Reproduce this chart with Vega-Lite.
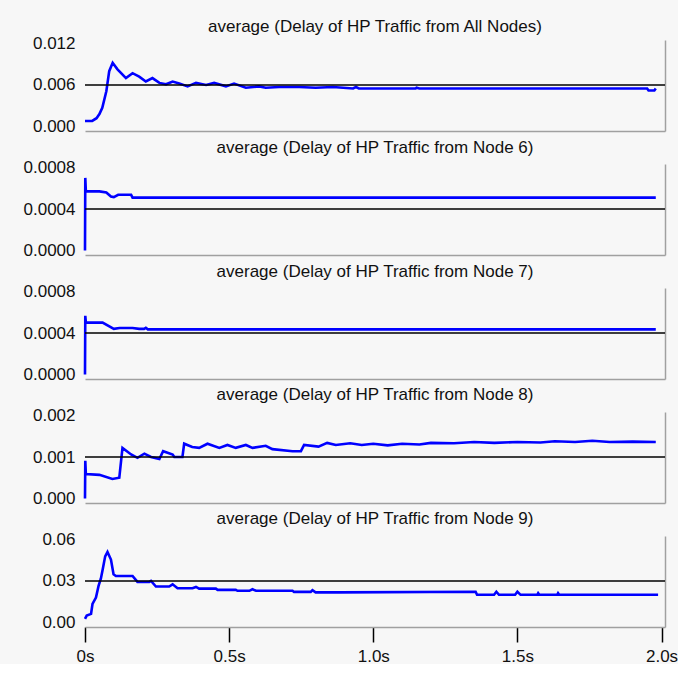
{
  "$schema": "https://vega.github.io/schema/vega-lite/v6.json",
  "background": "#f7f7f7",
  "padding": {"left": 23, "top": 18, "right": 0, "bottom": 0},
  "bounds": "flush",
  "spacing": 33,
  "config": {
    "view": {"stroke": null},
    "font": "Liberation Sans",
    "axis": {"labelFont": "Liberation Sans", "labelFontSize": 17, "labelColor": "#111111", "grid": false, "title": null},
    "title": {"font": "Liberation Sans", "fontSize": 17, "fontWeight": "normal", "color": "#111111", "anchor": "middle", "frame": "group"}
  },
  "datasets": {
    "p1": [
      {"t": 0, "v": 0.0008}, {"t": 0.025, "v": 0.0008}, {"t": 0.04, "v": 0.0012}, {"t": 0.05, "v": 0.0018},
      {"t": 0.06, "v": 0.0027}, {"t": 0.074, "v": 0.0051}, {"t": 0.084, "v": 0.008}, {"t": 0.096, "v": 0.0092},
      {"t": 0.112, "v": 0.0083}, {"t": 0.142, "v": 0.007}, {"t": 0.165, "v": 0.0077}, {"t": 0.188, "v": 0.0072},
      {"t": 0.211, "v": 0.0065}, {"t": 0.234, "v": 0.007}, {"t": 0.258, "v": 0.0063}, {"t": 0.281, "v": 0.0061},
      {"t": 0.304, "v": 0.0065}, {"t": 0.327, "v": 0.0062}, {"t": 0.356, "v": 0.0058}, {"t": 0.385, "v": 0.0063},
      {"t": 0.42, "v": 0.006}, {"t": 0.448, "v": 0.0063}, {"t": 0.489, "v": 0.0058}, {"t": 0.517, "v": 0.0062},
      {"t": 0.558, "v": 0.0056}, {"t": 0.604, "v": 0.0058}, {"t": 0.627, "v": 0.0056}, {"t": 0.673, "v": 0.0057},
      {"t": 0.743, "v": 0.0057}, {"t": 0.8, "v": 0.0056}, {"t": 0.86, "v": 0.0057}, {"t": 0.93, "v": 0.0055},
      {"t": 0.94, "v": 0.0057}, {"t": 0.95, "v": 0.0055}, {"t": 1.147, "v": 0.0055}, {"t": 1.15, "v": 0.0056},
      {"t": 1.16, "v": 0.0055}, {"t": 1.5, "v": 0.0055}, {"t": 1.95, "v": 0.0055}, {"t": 1.955, "v": 0.0052},
      {"t": 1.975, "v": 0.0052}, {"t": 1.98, "v": 0.0055}
    ],
    "p2": [
      {"t": 0, "v": 0}, {"t": 0.001, "v": 0.0007}, {"t": 0.003, "v": 0.00057}, {"t": 0.05, "v": 0.00057},
      {"t": 0.074, "v": 0.00056}, {"t": 0.09, "v": 0.00052}, {"t": 0.1, "v": 0.000515}, {"t": 0.115, "v": 0.000537},
      {"t": 0.16, "v": 0.000537}, {"t": 0.165, "v": 0.00051}, {"t": 1.98, "v": 0.00051}
    ],
    "p3": [
      {"t": 0, "v": 0}, {"t": 0.001, "v": 0.000566}, {"t": 0.003, "v": 0.0005}, {"t": 0.061, "v": 0.0005},
      {"t": 0.1, "v": 0.00044}, {"t": 0.12, "v": 0.000449}, {"t": 0.165, "v": 0.000449}, {"t": 0.188, "v": 0.00044},
      {"t": 0.205, "v": 0.00044}, {"t": 0.211, "v": 0.00045}, {"t": 0.218, "v": 0.000435}, {"t": 1.98, "v": 0.000435}
    ],
    "p4": [
      {"t": 0, "v": 0}, {"t": 0.001, "v": 0.00091}, {"t": 0.003, "v": 0.00059}, {"t": 0.05, "v": 0.00057},
      {"t": 0.095, "v": 0.00047}, {"t": 0.119, "v": 0.0005}, {"t": 0.13, "v": 0.00122}, {"t": 0.16, "v": 0.00106},
      {"t": 0.182, "v": 0.00098}, {"t": 0.206, "v": 0.00108}, {"t": 0.229, "v": 0.001}, {"t": 0.258, "v": 0.00095},
      {"t": 0.271, "v": 0.00114}, {"t": 0.304, "v": 0.00106}, {"t": 0.31, "v": 0.001}, {"t": 0.338, "v": 0.001},
      {"t": 0.344, "v": 0.00132}, {"t": 0.372, "v": 0.00124}, {"t": 0.396, "v": 0.00122}, {"t": 0.425, "v": 0.00132},
      {"t": 0.466, "v": 0.00122}, {"t": 0.494, "v": 0.00129}, {"t": 0.523, "v": 0.00122}, {"t": 0.558, "v": 0.00129},
      {"t": 0.581, "v": 0.00122}, {"t": 0.627, "v": 0.00127}, {"t": 0.65, "v": 0.00119}, {"t": 0.72, "v": 0.00114},
      {"t": 0.749, "v": 0.00114}, {"t": 0.76, "v": 0.00129}, {"t": 0.81, "v": 0.00125}, {"t": 0.84, "v": 0.00134},
      {"t": 0.87, "v": 0.00129}, {"t": 0.92, "v": 0.00133}, {"t": 0.96, "v": 0.00129}, {"t": 1.0, "v": 0.00132},
      {"t": 1.05, "v": 0.00128}, {"t": 1.1, "v": 0.00132}, {"t": 1.16, "v": 0.0013}, {"t": 1.2, "v": 0.00134},
      {"t": 1.28, "v": 0.00133}, {"t": 1.35, "v": 0.00136}, {"t": 1.42, "v": 0.00134}, {"t": 1.5, "v": 0.00136},
      {"t": 1.58, "v": 0.00135}, {"t": 1.63, "v": 0.00138}, {"t": 1.7, "v": 0.00136}, {"t": 1.76, "v": 0.00139},
      {"t": 1.82, "v": 0.00136}, {"t": 1.9, "v": 0.00137}, {"t": 1.98, "v": 0.00136}
    ],
    "p5": [
      {"t": 0, "v": 0.0026}, {"t": 0.006, "v": 0.005}, {"t": 0.021, "v": 0.0062}, {"t": 0.026, "v": 0.0134},
      {"t": 0.038, "v": 0.018}, {"t": 0.047, "v": 0.0264}, {"t": 0.055, "v": 0.0316}, {"t": 0.061, "v": 0.038},
      {"t": 0.07, "v": 0.0478}, {"t": 0.078, "v": 0.051}, {"t": 0.09, "v": 0.0455}, {"t": 0.099, "v": 0.0348},
      {"t": 0.107, "v": 0.0336}, {"t": 0.165, "v": 0.0336}, {"t": 0.182, "v": 0.0293}, {"t": 0.223, "v": 0.0293},
      {"t": 0.229, "v": 0.03}, {"t": 0.246, "v": 0.026}, {"t": 0.292, "v": 0.026}, {"t": 0.304, "v": 0.0276},
      {"t": 0.321, "v": 0.0248}, {"t": 0.373, "v": 0.0248}, {"t": 0.385, "v": 0.0257}, {"t": 0.396, "v": 0.0245},
      {"t": 0.454, "v": 0.0245}, {"t": 0.46, "v": 0.0236}, {"t": 0.523, "v": 0.0236}, {"t": 0.529, "v": 0.0229},
      {"t": 0.57, "v": 0.0229}, {"t": 0.581, "v": 0.024}, {"t": 0.593, "v": 0.0229}, {"t": 0.72, "v": 0.0229},
      {"t": 0.725, "v": 0.0221}, {"t": 0.783, "v": 0.0221}, {"t": 0.789, "v": 0.0233}, {"t": 0.8, "v": 0.0218},
      {"t": 0.88, "v": 0.0218}, {"t": 1.355, "v": 0.0222}, {"t": 1.36, "v": 0.02}, {"t": 1.419, "v": 0.02},
      {"t": 1.427, "v": 0.0222}, {"t": 1.436, "v": 0.02}, {"t": 1.492, "v": 0.02}, {"t": 1.5, "v": 0.0222},
      {"t": 1.511, "v": 0.02}, {"t": 1.569, "v": 0.02}, {"t": 1.572, "v": 0.0212}, {"t": 1.576, "v": 0.02},
      {"t": 1.638, "v": 0.02}, {"t": 1.641, "v": 0.0212}, {"t": 1.645, "v": 0.02}, {"t": 1.988, "v": 0.02}
    ],
    "one": [{"k": 1}]
  },
  "vconcat": [
    {
      "title": {"text": "average (Delay of HP Traffic from All Nodes)", "offset": -2, "frame": "group"},
      "width": 580, "height": 91,
      "resolve": {"axis": {"y": "independent"}},
      "layer": [
        {
          "data": {"name": "p1"},
          "mark": {"type": "line", "color": "#0000ff", "strokeWidth": 2.6},
          "encoding": {
            "x": {"field": "t", "type": "quantitative", "scale": {"domain": [0, 2.012], "nice": false, "zero": false},
                  "axis": {"labels": false, "ticks": false, "domain": true, "domainColor": "#a0a0a0", "domainWidth": 1.5, "title": null}},
            "y": {"field": "v", "type": "quantitative", "scale": {"domain": [-0.00065, 0.0125], "nice": false, "zero": false},
                  "axis": {"orient": "left", "values": [0, 0.006, 0.012], "format": ".3f", "ticks": false, "domain": false, "labelPadding": 10, "title": null}}
          }
        },
        {
          "data": {"name": "one"},
          "mark": {"type": "rule", "color": "#000000", "strokeWidth": 1.5},
          "encoding": {
            "y": {"datum": 0.006, "type": "quantitative",
                  "axis": {"orient": "right", "labels": false, "ticks": false, "domain": true, "domainColor": "#a0a0a0", "domainWidth": 1.5, "title": null}}
          }
        }
      ]
    },
    {
      "title": {"text": "average (Delay of HP Traffic from Node 6)", "offset": 2, "frame": "group"},
      "width": 580, "height": 91,
      "resolve": {"axis": {"y": "independent"}},
      "layer": [
        {
          "data": {"name": "p2"},
          "mark": {"type": "line", "color": "#0000ff", "strokeWidth": 2.6},
          "encoding": {
            "x": {"field": "t", "type": "quantitative", "scale": {"domain": [0, 2.012], "nice": false, "zero": false},
                  "axis": {"labels": false, "ticks": false, "domain": true, "domainColor": "#a0a0a0", "domainWidth": 1.5, "title": null}},
            "y": {"field": "v", "type": "quantitative", "scale": {"domain": [-0.0000434, 0.000834], "nice": false, "zero": false},
                  "axis": {"orient": "left", "values": [0, 0.0004, 0.0008], "format": ".4f", "ticks": false, "domain": false, "labelPadding": 10, "title": null}}
          }
        },
        {
          "data": {"name": "one"},
          "mark": {"type": "rule", "color": "#000000", "strokeWidth": 1.5},
          "encoding": {
            "y": {"datum": 0.0004, "type": "quantitative",
                  "axis": {"orient": "right", "labels": false, "ticks": false, "domain": true, "domainColor": "#a0a0a0", "domainWidth": 1.5, "title": null}}
          }
        }
      ]
    },
    {
      "title": {"text": "average (Delay of HP Traffic from Node 7)", "offset": 2, "frame": "group"},
      "width": 580, "height": 91,
      "resolve": {"axis": {"y": "independent"}},
      "layer": [
        {
          "data": {"name": "p3"},
          "mark": {"type": "line", "color": "#0000ff", "strokeWidth": 2.6},
          "encoding": {
            "x": {"field": "t", "type": "quantitative", "scale": {"domain": [0, 2.012], "nice": false, "zero": false},
                  "axis": {"labels": false, "ticks": false, "domain": true, "domainColor": "#a0a0a0", "domainWidth": 1.5, "title": null}},
            "y": {"field": "v", "type": "quantitative", "scale": {"domain": [-0.0000434, 0.000834], "nice": false, "zero": false},
                  "axis": {"orient": "left", "values": [0, 0.0004, 0.0008], "format": ".4f", "ticks": false, "domain": false, "labelPadding": 10, "title": null}}
          }
        },
        {
          "data": {"name": "one"},
          "mark": {"type": "rule", "color": "#000000", "strokeWidth": 1.5},
          "encoding": {
            "y": {"datum": 0.0004, "type": "quantitative",
                  "axis": {"orient": "right", "labels": false, "ticks": false, "domain": true, "domainColor": "#a0a0a0", "domainWidth": 1.5, "title": null}}
          }
        }
      ]
    },
    {
      "title": {"text": "average (Delay of HP Traffic from Node 8)", "offset": 2, "frame": "group"},
      "width": 580, "height": 91,
      "resolve": {"axis": {"y": "independent"}},
      "layer": [
        {
          "data": {"name": "p4"},
          "mark": {"type": "line", "color": "#0000ff", "strokeWidth": 2.6},
          "encoding": {
            "x": {"field": "t", "type": "quantitative", "scale": {"domain": [0, 2.012], "nice": false, "zero": false},
                  "axis": {"labels": false, "ticks": false, "domain": true, "domainColor": "#a0a0a0", "domainWidth": 1.5, "title": null}},
            "y": {"field": "v", "type": "quantitative", "scale": {"domain": [-0.000108, 0.002084], "nice": false, "zero": false},
                  "axis": {"orient": "left", "values": [0, 0.001, 0.002], "format": ".3f", "ticks": false, "domain": false, "labelPadding": 10, "title": null}}
          }
        },
        {
          "data": {"name": "one"},
          "mark": {"type": "rule", "color": "#000000", "strokeWidth": 1.5},
          "encoding": {
            "y": {"datum": 0.001, "type": "quantitative",
                  "axis": {"orient": "right", "labels": false, "ticks": false, "domain": true, "domainColor": "#a0a0a0", "domainWidth": 1.5, "title": null}}
          }
        }
      ]
    },
    {
      "title": {"text": "average (Delay of HP Traffic from Node 9)", "offset": 2, "frame": "group"},
      "width": 580, "height": 91,
      "resolve": {"axis": {"y": "independent"}},
      "layer": [
        {
          "data": {"name": "p5"},
          "mark": {"type": "line", "color": "#0000ff", "strokeWidth": 2.6},
          "encoding": {
            "x": {"field": "t", "type": "quantitative", "scale": {"domain": [0, 2.012], "nice": false, "zero": false},
                  "axis": {"values": [0, 0.5, 1, 1.5, 2], "labelExpr": "datum.value == 0 ? '0s' : format(datum.value, '.1f') + 's'",
                           "labelFlush": false, "labelOverlap": false,
                           "ticks": true, "tickColor": "#000000", "tickWidth": 1.5, "tickSize": 15, "labelPadding": 6,
                           "domain": true, "domainColor": "#a0a0a0", "domainWidth": 1.5, "title": null}},
            "y": {"field": "v", "type": "quantitative", "scale": {"domain": [-0.00325, 0.0625], "nice": false, "zero": false},
                  "axis": {"orient": "left", "values": [0, 0.03, 0.06], "format": ".2f", "ticks": false, "domain": false, "labelPadding": 10, "title": null}}
          }
        },
        {
          "data": {"name": "one"},
          "mark": {"type": "rule", "color": "#000000", "strokeWidth": 1.5},
          "encoding": {
            "y": {"datum": 0.03, "type": "quantitative",
                  "axis": {"orient": "right", "labels": false, "ticks": false, "domain": true, "domainColor": "#a0a0a0", "domainWidth": 1.5, "title": null}}
          }
        }
      ]
    }
  ]
}
